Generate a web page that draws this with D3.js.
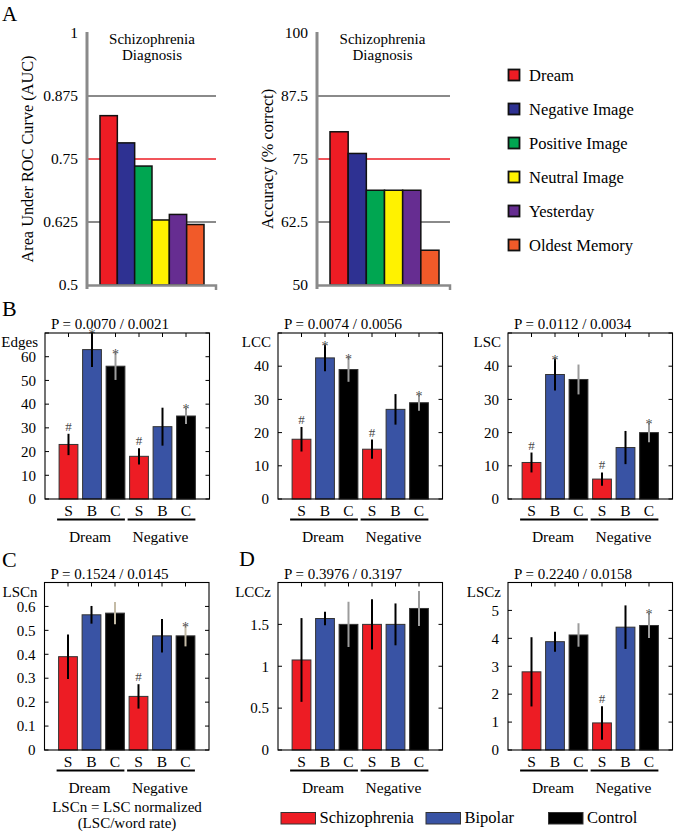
<!DOCTYPE html>
<html><head><meta charset="utf-8">
<script src="https://cdn.jsdelivr.net/npm/d3@7"></script>
<style>body{margin:0;background:#fff}svg{display:block}</style>
</head><body>
<svg id="c" width="675" height="836" font-family="'Liberation Serif', 'Times New Roman', Times, 'Nimbus Roman', 'DejaVu Serif', serif"></svg>
<script>
// ---------- Panel A data ----------
const aCategories = ["Dream","Negative Image","Positive Image","Neutral Image","Yesterday","Oldest Memory"];
const aucValues = [0.836, 0.782, 0.736, 0.629, 0.640, 0.620];
const accuracyValues = [80.4, 76.1, 68.8, 68.8, 68.8, 56.9];
const aucTicks = [0.5, 0.625, 0.75, 0.875, 1];
const accuracyTicks = [50, 62.5, 75, 87.5, 100];
const aucChance = 0.75;
const accuracyChance = 75;

// ---------- Panels B-D data ----------
const groupLabels = ["S","B","C","S","B","C"];
const conditionLabels = ["Dream","Negative"];
const legendLabels = ["Schizophrenia","Bipolar","Control"];

const edgesMean = [23, 63, 56, 18, 30.5, 35];
const edgesErr  = [4.5, 7.3, 5.8, 3.4, 8, 3.4];
const edgesMarks = ["#","*","*","#","","*"];
const edgesTicks = [0,10,20,30,40,50,60,70];

const lccMean = [18, 42.5, 39, 15, 27, 29];
const lccErr  = [3.7, 4, 3.7, 2.9, 4.6, 2.4];
const lccMarks = ["#","*","*","#","","*"];
const lccTicks = [0,10,20,30,40,50];

const lscMean = [11, 37.5, 36, 6, 15.5, 20];
const lscErr  = [3, 4.8, 4.5, 2, 5, 2.9];
const lscMarks = ["#","*","","#","","*"];
const lscTicks = [0,10,20,30,40,50];

const lscnMean = [0.39, 0.565, 0.572, 0.224, 0.477, 0.477];
const lscnErr  = [0.093, 0.037, 0.046, 0.051, 0.07, 0.044];
const lscnMarks = ["","","","#","","*"];
const lscnTicks = [0,0.1,0.2,0.3,0.4,0.5,0.6,0.7];

const lcczMean = [1.075, 1.57, 1.5, 1.5, 1.5, 1.69];
const lcczErr  = [0.5, 0.08, 0.27, 0.3, 0.25, 0.21];
const lcczMarks = ["","","","","",""];
const lcczTicks = [0,0.5,1,1.5,2];

const lsczMean = [2.8, 3.88, 4.12, 0.97, 4.4, 4.46];
const lsczErr  = [1.24, 0.36, 0.42, 0.6, 0.78, 0.45];
const lsczMarks = ["","","","#","","*"];
const lsczTicks = [0,1,2,3,4,5,6];

const pLabels = ["P = 0.0070 / 0.0021","P = 0.0074 / 0.0056","P = 0.0112 / 0.0034",
                 "P = 0.1524 / 0.0145","P = 0.3976 / 0.3197","P = 0.2240 / 0.0158"];
const yLabels = ["Edges","LCC","LSC","LSCn","LCCz","LSCz"];

// ---------- styles ----------
const aColors = ["#ed1c24","#2e3192","#00a651","#fff200","#662d91","#f15a29"];
const groupColors = ["#ed1c24","#3953a4","#000000"];
const errColors = ["#000","#000","#9c9c9c"];
const axisGray = "#8a8a8a";

const svg = d3.select("#c");

// ---------- Panel A ----------
svg.append("text").attr("x",2).attr("y",21).attr("font-size",21).text("A");

function drawA(cfg){
  const g = svg.append("g");
  const y = d3.scaleLinear().domain([cfg.ticks[0], cfg.ticks[cfg.ticks.length-1]]).range([285, 33]);
  const x = d3.scaleBand().domain(aCategories).range(cfg.barRange).padding(0);
  cfg.ticks.filter(t => t !== cfg.ticks[0] && t !== cfg.ticks[cfg.ticks.length-1] && t !== cfg.chance).forEach(t => {
    g.append("line").attr("x1",cfg.axisX).attr("x2",cfg.gridEnd).attr("y1",y(t)).attr("y2",y(t))
      .attr("stroke",axisGray).attr("stroke-width",2);
  });
  g.append("line").attr("x1",cfg.axisX).attr("x2",cfg.gridEnd).attr("y1",y(cfg.chance)).attr("y2",y(cfg.chance))
    .attr("stroke","#ed1c24").attr("stroke-width",1.5);
  g.selectAll("rect.bar").data(cfg.values).join("rect")
    .attr("x",(d,i)=>x(aCategories[i])).attr("width",x.bandwidth())
    .attr("y",d=>y(d)).attr("height",d=>y(cfg.ticks[0])-y(d))
    .attr("fill",(d,i)=>aColors[i]).attr("stroke","#111").attr("stroke-width",1.5);
  g.append("line").attr("x1",cfg.axisX).attr("x2",cfg.axisX).attr("y1",32).attr("y2",289)
    .attr("stroke",axisGray).attr("stroke-width",3);
  g.append("path").attr("d",`M${cfg.axisX},285.5H${cfg.gridEnd}V290`).attr("fill","none")
    .attr("stroke",axisGray).attr("stroke-width",2.5);
  g.selectAll("text.tk").data(cfg.ticks).join("text")
    .attr("x",cfg.labelX).attr("y",d=>y(d)).attr("dy","0.35em").attr("text-anchor","end")
    .attr("font-size",15.5).text(d=>String(d));
  g.append("text").attr("x",cfg.titleX).attr("y",44).attr("text-anchor","middle").attr("font-size",15).text("Schizophrenia");
  g.append("text").attr("x",cfg.titleX).attr("y",59.5).attr("text-anchor","middle").attr("font-size",15).text("Diagnosis");
  g.append("text").attr("transform",`translate(${cfg.ylabX},159) rotate(-90)`).attr("text-anchor","middle")
    .attr("font-size",16.3).text(cfg.ylabel);
}
drawA({values:aucValues,ticks:aucTicks,chance:aucChance,axisX:87,gridEnd:216,barRange:[100,204],
       labelX:78,titleX:152,ylabX:32.5,ylabel:"Area Under ROC Curve (AUC)"});
drawA({values:accuracyValues,ticks:accuracyTicks,chance:accuracyChance,axisX:317,gridEnd:450,barRange:[330,439],
       labelX:308,titleX:382.5,ylabX:272.5,ylabel:"Accuracy (% correct)"});

const lg = svg.append("g");
aCategories.forEach((c,i)=>{
  const cy = 75 + i*34;
  lg.append("rect").attr("x",508.5).attr("y",cy-5.5).attr("width",11).attr("height",11)
    .attr("fill",aColors[i]).attr("stroke","#111").attr("stroke-width",1.8);
  lg.append("text").attr("x",529).attr("y",cy+5.5).attr("font-size",16.5).text(c);
});

// ---------- Bar panels ----------
const panels = [
  {x0:45,  top:333,   bottom:499, mean:edgesMean, err:edgesErr, marks:edgesMarks, ticks:edgesTicks},
  {x0:278, top:333,   bottom:499, mean:lccMean,   err:lccErr,   marks:lccMarks,   ticks:lccTicks},
  {x0:508, top:333,   bottom:499, mean:lscMean,   err:lscErr,   marks:lscMarks,   ticks:lscTicks},
  {x0:44.5,top:582.5, bottom:750, mean:lscnMean,  err:lscnErr,  marks:lscnMarks,  ticks:lscnTicks},
  {x0:278, top:582.5, bottom:750, mean:lcczMean,  err:lcczErr,  marks:lcczMarks,  ticks:lcczTicks},
  {x0:508, top:582.5, bottom:750, mean:lsczMean,  err:lsczErr,  marks:lsczMarks,  ticks:lsczTicks}
];
const fmt = d3.format("~g");

panels.forEach((p,pi)=>{
  const g = svg.append("g");
  const x = d3.scaleLinear().domain([0,7]).range([p.x0, p.x0+164.5]);
  const y = d3.scaleLinear().domain([p.ticks[0], p.ticks[p.ticks.length-1]]).range([p.bottom, p.top]);
  const bw = x(0.8)-x(0);
  const pos = groupLabels.map((d,i)=>i+1);
  g.selectAll("rect.bar").data(p.mean).join("rect")
    .attr("x",(d,i)=>x(pos[i])-bw/2).attr("width",bw)
    .attr("y",d=>y(d)).attr("height",d=>y(0)-y(d))
    .attr("fill",(d,i)=>groupColors[i%3]).attr("stroke","#333").attr("stroke-width",1);
  g.selectAll("line.err").data(p.mean).join("line")
    .attr("x1",(d,i)=>x(pos[i])).attr("x2",(d,i)=>x(pos[i]))
    .attr("y1",(d,i)=>y(d-p.err[i])).attr("y2",(d,i)=>y(d+p.err[i]))
    .attr("stroke",(d,i)=>(pi===3 && i%3===2) ? "#c4bba6" : errColors[i%3]).attr("stroke-width",2);
  p.mean.forEach((d,i)=>{
    const m = p.marks[i]; if(!m) return;
    const yt = y(d+p.err[i]);
    g.append("text").attr("x",x(pos[i])).attr("y", m==="*" ? yt+6.5 : yt-3)
      .attr("text-anchor","middle").attr("font-size", m==="*"?14:13).attr("fill","#4a4a4a").text(m);
  });
  const x1 = p.x0+164.5;
  p.ticks.forEach(t=>{
    g.append("line").attr("x1",p.x0).attr("x2",p.x0+4).attr("y1",y(t)).attr("y2",y(t)).attr("stroke","#000");
    g.append("line").attr("x1",x1-4).attr("x2",x1).attr("y1",y(t)).attr("y2",y(t)).attr("stroke","#000");
  });
  pos.forEach(v=>{
    g.append("line").attr("x1",x(v)).attr("x2",x(v)).attr("y1",p.top).attr("y2",p.top+4).attr("stroke","#000");
  });
  g.append("rect").attr("x",p.x0).attr("y",p.top).attr("width",164.5).attr("height",p.bottom-p.top)
    .attr("fill","none").attr("stroke","#000").attr("stroke-width",1.1);
  g.selectAll("text.tk").data(p.ticks.slice(0,-1)).join("text")
    .attr("x",p.x0-9).attr("y",d=>y(d)).attr("dy","0.35em").attr("text-anchor","end")
    .attr("font-size",15).text(d=>fmt(d));
  g.append("text").attr("x",p.x0-7).attr("y",p.top+14).attr("text-anchor","end").attr("font-size",15).text(yLabels[pi]);
  g.append("text").attr("x",p.x0+6).attr("y",p.top-4).attr("font-size",15).text(pLabels[pi]);
  groupLabels.forEach((s,i)=>{
    g.append("text").attr("x",x(pos[i])).attr("y",p.bottom+17).attr("text-anchor","middle").attr("font-size",15.5).text(s);
  });
  conditionLabels.forEach((c,k)=>{
    const a = x(pos[k*3])-bw/2-2, b = x(pos[k*3+2])+bw/2;
    g.append("line").attr("x1",a).attr("x2",b).attr("y1",p.bottom+20.5).attr("y2",p.bottom+20.5)
      .attr("stroke","#000").attr("stroke-width",2);
    g.append("text").attr("x",x(pos[k*3+1])-2).attr("y",p.bottom+42.5).attr("text-anchor","middle")
      .attr("font-size",15.5).text(c);
  });
});

svg.append("text").attr("x",2).attr("y",316).attr("font-size",22).text("B");
svg.append("text").attr("x",2).attr("y",567).attr("font-size",22).text("C");
svg.append("text").attr("x",239).attr("y",566).attr("font-size",22).text("D");

svg.append("text").attr("x",127).attr("y",812).attr("text-anchor","middle").attr("font-size",15).text("LSCn = LSC normalized");
svg.append("text").attr("x",127).attr("y",828).attr("text-anchor","middle").attr("font-size",15).text("(LSC/word rate)");

const legX = [281, 426, 548.5];
legendLabels.forEach((l,i)=>{
  svg.append("rect").attr("x",legX[i]).attr("y",812.5).attr("width",34.5).attr("height",11.5)
    .attr("fill",groupColors[i]).attr("stroke","#333").attr("stroke-width",1);
  svg.append("text").attr("x",legX[i]+38.5).attr("y",823).attr("font-size",16.5).text(l);
});
</script>
</body></html>
